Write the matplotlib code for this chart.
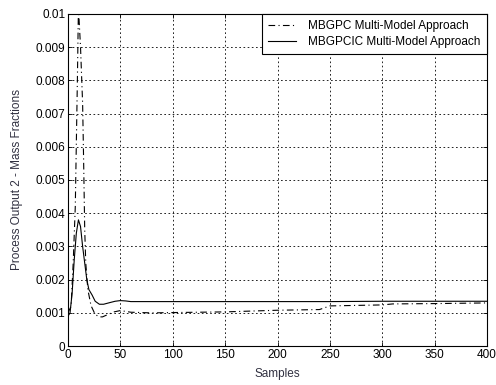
import matplotlib
matplotlib.use("Agg")
import matplotlib.pyplot as plt

plt.rcParams['font.family'] = ['Liberation Sans', 'DejaVu Sans']

# MBGPC multi-model response (dash-dot)
mbgpc_x = [0, 3, 5, 7, 9, 10, 12, 14, 15, 16, 17, 19, 22, 26, 30, 33, 38, 44, 50,
           60, 80, 100, 150, 200, 240, 250, 300, 310, 350, 400]
mbgpc_y = [0.0010, 0.0012, 0.0025, 0.0042, 0.0080, 0.0102, 0.0090, 0.0073, 0.0055,
           0.0035, 0.0025, 0.0017, 0.00122, 0.00095, 0.00088, 0.00088, 0.00095,
           0.00103, 0.00107, 0.00102, 0.00100, 0.00101, 0.00103, 0.00108, 0.00110,
           0.00121, 0.00124, 0.00127, 0.00128, 0.00130]

# MBGPCIC multi-model response (solid)
mbgpcic_x = [0, 2, 4, 6, 8, 10, 12, 14, 16, 18, 20, 23, 26, 30, 34, 40, 45, 50,
             55, 60, 80, 100, 150, 200, 250, 300, 350, 400]
mbgpcic_y = [0.0009, 0.0010, 0.0016, 0.0026, 0.0034, 0.0038, 0.0036, 0.0030,
             0.0025, 0.0020, 0.0017, 0.00154, 0.00135, 0.00126, 0.00126, 0.00131,
             0.00135, 0.00137, 0.00136, 0.00134, 0.00134, 0.00134, 0.00134,
             0.00134, 0.00134, 0.00135, 0.00135, 0.00135]

x_ticks = [0, 50, 100, 150, 200, 250, 300, 350, 400]
y_ticks = [0, 0.001, 0.002, 0.003, 0.004, 0.005, 0.006, 0.007, 0.008, 0.009, 0.01]
y_tick_labels = ['0', '0.001', '0.002', '0.003', '0.004', '0.005', '0.006',
                 '0.007', '0.008', '0.009', '0.01']

fig = plt.figure(figsize=(4.96, 3.85), dpi=100)
ax = fig.add_axes([0.137, 0.101, 0.845, 0.863])

ax.plot(mbgpc_x, mbgpc_y, color='black', linestyle=(0, (6, 3, 1, 3)), linewidth=0.8,
        label='MBGPC Multi-Model Approach')
ax.plot(mbgpcic_x, mbgpcic_y, color='black', linestyle='-', linewidth=0.8,
        label='MBGPCIC Multi-Model Approach')

ax.set_xlim(0, 400)
ax.set_ylim(0, 0.01)
ax.set_xticks(x_ticks)
ax.set_yticks(y_ticks)
ax.set_yticklabels(y_tick_labels)
ax.tick_params(direction='in', top=True, right=True, labelsize=8.5, length=3,
               width=0.6, pad=2)
ax.grid(True, color='black', linestyle=(0, (2, 3)), linewidth=0.6)
for s in ax.spines.values():
    s.set_linewidth(0.8)

ax.set_xlabel('Samples', fontsize=8.5, labelpad=5, color='#303040')
ax.set_ylabel('Process Output 2 - Mass Fractions', fontsize=8.5, labelpad=9,
              color='#303040')

leg = ax.legend(loc='upper right', fontsize=8.5, fancybox=False, framealpha=1,
                edgecolor='black', borderaxespad=0, handlelength=2.4,
                handletextpad=1.0, borderpad=0.55, labelspacing=0.3)
leg.get_frame().set_linewidth(0.8)

fig.savefig('out.png', dpi=100)
